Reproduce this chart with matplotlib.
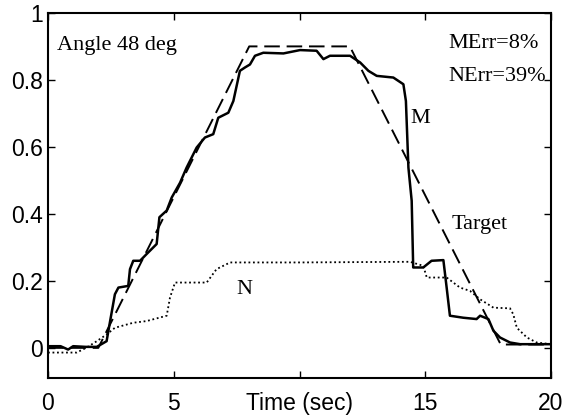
import matplotlib
matplotlib.use("Agg")
import matplotlib.pyplot as plt

# Target trapezoid
target_x = [0, 2.0, 8.0, 12.0, 18.0, 20]
target_y = [0, 0.0, 0.9, 0.9, 0.01, 0.01]

# M (solid)
m_x = [0, 0.5, 0.8, 1.0, 1.5, 1.94, 2.33, 2.47, 2.66, 2.80, 3.19, 3.26, 3.39, 3.66, 3.92, 4.32, 4.43,
       4.72, 4.92, 5.25, 5.51, 5.91, 6.24, 6.57, 6.77, 7.17, 7.37, 7.63, 7.83, 8.03, 8.23, 8.56,
       9.36, 10.02, 10.68, 10.95, 11.21, 12.01, 12.41, 12.74, 13.07, 13.73, 14.13, 14.23, 14.33,
       14.46, 14.52, 14.92, 15.25, 15.72, 15.85, 15.98, 16.51, 17.04, 17.18, 17.51, 17.71, 17.97,
       18.37, 18.77, 20]
m_y = [0.005, 0.005, -0.005, 0.005, 0.003, 0.003, 0.02, 0.08, 0.16, 0.18, 0.185, 0.235, 0.26, 0.26, 0.28,
       0.31, 0.39, 0.41, 0.449, 0.493, 0.538, 0.598, 0.628, 0.638, 0.687, 0.702, 0.737, 0.827,
       0.837, 0.846, 0.872, 0.881, 0.879, 0.889, 0.887, 0.862, 0.872, 0.872, 0.852, 0.827, 0.812,
       0.807, 0.787, 0.737, 0.538, 0.439, 0.24, 0.24, 0.26, 0.262, 0.18, 0.096, 0.09, 0.086, 0.096,
       0.086, 0.051, 0.031, 0.016, 0.011, 0.011]

# N (dotted)
n_x = [0, 1.14, 1.54, 1.94, 2.33, 2.66, 3.39, 3.92, 4.72, 4.85, 5.05, 6.31, 6.70, 7.24, 10.0,
       14.39, 14.92, 15.06, 15.85, 16.38, 16.78, 17.18, 17.71, 18.37, 18.50, 18.64, 19.04, 19.43, 20]
n_y = [-0.014, -0.014, 0.001, 0.02, 0.04, 0.06, 0.075, 0.08, 0.096, 0.15, 0.195, 0.195, 0.235,
       0.255, 0.255, 0.257, 0.245, 0.21, 0.21, 0.18, 0.17, 0.145, 0.12, 0.118, 0.10, 0.06, 0.031,
       0.016, 0.011]

x_ticks = [0, 5, 10, 15, 20]
x_tick_labels = ["0", "5", "Time (sec)", "15", "20"]
y_ticks = [0, 0.2, 0.4, 0.6, 0.8, 1]
y_tick_labels = ["0", "0.2", "0.4", "0.6", "0.8", "1"]

fig = plt.figure(figsize=(5.64, 4.16), dpi=100)
ax = fig.add_axes([0.0851, 0.0913, 0.977 - 0.0851, 0.969 - 0.0913])

ax.plot(target_x, target_y, color="black", lw=1.4, dashes=(8, 3.5))
ax.plot(m_x, m_y, color="black", lw=1.8)
ax.plot(n_x, n_y, color="black", lw=1.3, linestyle=(0, (1, 1.5)))

ax.set_xlim(0, 20)
ax.set_ylim(-0.09, 1.0)
ax.set_xticks(x_ticks)
ax.set_xticklabels(x_tick_labels)
ax.set_yticks(y_ticks)
ax.set_yticklabels(y_tick_labels)
ax.tick_params(direction="in", top=True, right=True, length=5, width=1.0, labelsize=16.5)
ax.tick_params(axis="x", pad=10)
ax.tick_params(axis="y", pad=3.5)
for lab in ax.get_xticklabels() + ax.get_yticklabels():
    lab.set_fontfamily("Liberation Sans")
for s in ax.spines.values():
    s.set_linewidth(1.5)

serif = dict(fontfamily="Liberation Serif", fontsize=16, color="black", va="baseline", ha="left")
ax.text(0.37, 0.889, "Angle 48 deg", **serif)
ax.text(15.92, 0.896, "MErr=8%", **serif)
ax.text(15.92, 0.797, "NErr=39%", **serif)
ax.text(14.39, 0.672, "M", **serif)
ax.text(16.05, 0.354, "Target", **serif)
ax.text(7.50, 0.162, "N", **serif)

fig.savefig("out.png", dpi=100)
